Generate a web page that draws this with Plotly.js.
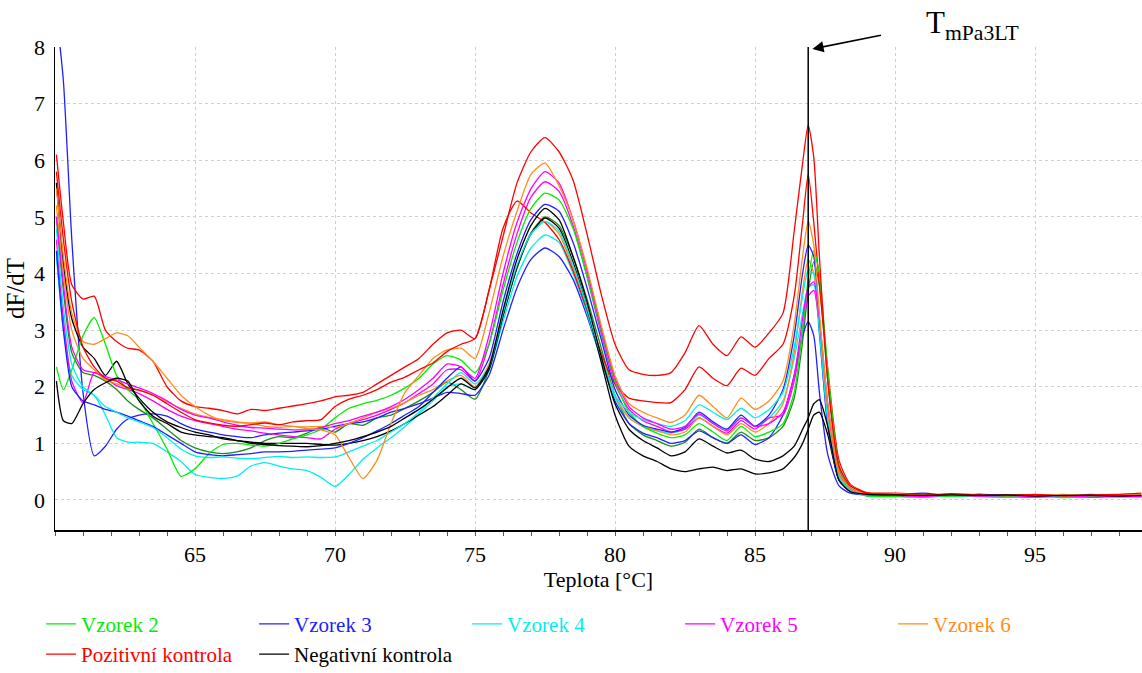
<!DOCTYPE html>
<html>
<head>
<meta charset="utf-8">
<script src="https://cdn.plot.ly/plotly-3.0.1.min.js"></script>
<style>html,body{margin:0;padding:0;background:#fff;}#chart{width:1142px;height:673px;}</style>
</head>
<body>
<div id="chart"></div>
<script>
// Temperature grid (°C)
const temperature = [60.05,60.3,60.6,61.0,61.4,61.8,62.2,62.6,63.0,63.5,64.0,64.5,65.0,65.5,66.0,66.5,67.0,67.5,68.0,68.5,69.0,69.5,70.0,70.5,71.0,71.5,72.0,72.5,73.0,73.5,74.0,74.5,75.0,75.5,76.0,76.5,77.0,77.5,78.0,78.5,79.0,79.5,80.0,80.5,81.0,81.5,82.0,82.5,83.0,83.5,84.0,84.5,85.0,85.5,86.0,86.4,86.7,86.9,87.1,87.3,87.6,88.0,88.4,89,90,91,92,93,94,95,96,97,98,98.8];

// dF/dT values (two runs per sample)
const vzorek2a = [2.35,1.95,2.3,2.9,3.22,2.75,2.2,1.95,1.77,1.35,0.9,0.42,0.55,0.82,0.98,1.0,0.97,0.95,1.0,1.08,1.15,1.25,1.45,1.62,1.7,1.76,1.85,1.98,2.15,2.4,2.55,2.47,2.25,2.75,3.7,4.55,5.15,5.42,5.3,4.8,3.95,3.0,2.1,1.55,1.3,1.18,1.1,1.15,1.35,1.2,1.05,1.3,1.12,1.2,1.35,1.9,3.0,3.9,4.4,4.0,2.3,0.6,0.22,0.07,0.06,0.05,0.07,0.06,0.05,0.07,0.04,0.06,0.05,0.06];
const vzorek2b = [5.0,3.7,2.6,2.25,2.2,2.1,1.95,1.75,1.6,1.45,1.25,1.05,0.92,0.85,0.82,0.85,0.92,1.05,1.12,1.1,1.18,1.28,1.2,1.35,1.32,1.45,1.5,1.62,1.75,1.9,2.08,1.95,1.78,2.3,3.25,4.1,4.72,5.0,4.85,4.3,3.55,2.7,1.85,1.35,1.15,1.05,0.95,1.02,1.25,1.1,1.0,1.2,1.05,1.1,1.3,1.8,2.8,3.7,4.2,3.8,2.1,0.55,0.2,0.08,0.07,0.06,0.08,0.07,0.06,0.05,0.07,0.06,0.07,0.06];
const vzorek3a = [4.4,3.0,2.0,1.75,1.68,1.6,1.55,1.48,1.4,1.3,1.15,1.0,0.85,0.8,0.78,0.8,0.82,0.85,0.85,0.86,0.88,0.9,0.92,1.0,1.1,1.22,1.35,1.5,1.65,1.9,2.15,2.35,2.1,2.5,3.5,4.35,4.95,5.22,5.1,4.55,3.75,2.85,1.95,1.5,1.32,1.25,1.2,1.28,1.55,1.38,1.25,1.5,1.3,1.5,1.95,2.9,4.0,4.5,4.3,3.0,1.3,0.35,0.15,0.1,0.09,0.12,0.08,0.1,0.09,0.07,0.08,0.09,0.07,0.08];
const vzorek3b = [8.6,7.4,4.6,1.9,0.78,0.95,1.25,1.43,1.5,1.52,1.48,1.35,1.25,1.2,1.15,1.12,1.1,1.15,1.18,1.2,1.22,1.25,1.3,1.35,1.38,1.45,1.55,1.62,1.7,1.8,1.9,1.88,1.85,2.2,3.0,3.75,4.25,4.45,4.3,3.9,3.25,2.5,1.75,1.35,1.18,1.1,1.0,1.05,1.22,1.1,1.0,1.15,0.98,1.1,1.5,2.2,2.9,3.15,2.9,1.9,0.8,0.25,0.12,0.09,0.1,0.08,0.1,0.09,0.07,0.08,0.07,0.06,0.08,0.07];
const vzorek4a = [4.8,3.4,2.4,2.0,1.85,1.65,1.55,1.45,1.38,1.28,1.1,0.9,0.78,0.75,0.76,0.74,0.73,0.75,0.77,0.75,0.76,0.75,0.76,0.85,0.95,1.05,1.2,1.35,1.55,1.8,2.05,2.25,2.05,2.35,3.3,4.15,4.7,4.92,4.75,4.15,3.4,2.55,1.85,1.55,1.42,1.35,1.3,1.4,1.68,1.55,1.42,1.62,1.45,1.6,1.9,2.7,3.6,4.05,4.0,3.0,1.4,0.4,0.17,0.08,0.09,0.07,0.08,0.07,0.08,0.07,0.06,0.08,0.07,0.08];
const vzorek4b = [4.3,3.0,2.2,1.95,1.85,1.5,1.1,1.02,1.02,1.0,0.85,0.68,0.45,0.4,0.38,0.42,0.6,0.66,0.6,0.55,0.52,0.4,0.24,0.45,0.72,0.92,1.1,1.3,1.52,1.75,2.0,2.05,1.95,2.3,3.15,3.95,4.45,4.68,4.55,4.0,3.3,2.5,1.8,1.45,1.3,1.22,1.18,1.25,1.5,1.35,1.25,1.45,1.3,1.45,1.75,2.5,3.3,3.75,3.8,2.9,1.4,0.4,0.16,0.07,0.08,0.06,0.07,0.08,0.06,0.07,0.08,0.06,0.07,0.06];
const vzorek5a = [5.0,3.8,2.7,2.3,2.25,2.18,2.12,2.05,1.98,1.88,1.75,1.6,1.5,1.45,1.38,1.32,1.28,1.27,1.25,1.24,1.24,1.28,1.35,1.4,1.48,1.55,1.65,1.78,1.95,2.15,2.4,2.35,2.15,2.9,4.0,4.9,5.5,5.8,5.6,4.95,4.05,3.05,2.15,1.65,1.45,1.35,1.25,1.3,1.52,1.35,1.22,1.45,1.3,1.35,1.55,2.2,3.2,3.75,3.85,3.2,1.7,0.5,0.2,0.09,0.08,0.06,0.09,0.07,0.08,0.06,0.08,0.05,0.07,0.06];
const vzorek5b = [4.6,3.2,2.1,1.72,2.25,2.15,2.02,1.95,1.88,1.75,1.6,1.48,1.4,1.35,1.3,1.25,1.22,1.18,1.15,1.12,1.1,1.08,1.25,1.35,1.42,1.5,1.6,1.72,1.88,2.05,2.3,2.3,2.1,2.75,3.8,4.7,5.35,5.62,5.45,4.85,3.95,2.95,2.05,1.6,1.4,1.3,1.2,1.25,1.45,1.3,1.18,1.4,1.25,1.45,1.5,2.1,3.0,3.6,3.7,3.1,1.6,0.45,0.2,0.08,0.09,0.07,0.08,0.08,0.06,0.07,0.07,0.06,0.08,0.07];
const vzorek6a = [5.5,4.3,3.3,2.8,2.75,2.85,2.95,2.9,2.7,2.45,2.15,1.85,1.65,1.5,1.4,1.37,1.35,1.3,1.28,1.3,1.26,1.24,1.15,0.75,0.38,0.7,1.35,1.9,2.2,2.5,2.65,2.68,2.5,3.3,4.3,5.1,5.75,5.95,5.55,4.95,4.1,3.1,2.2,1.7,1.55,1.45,1.37,1.5,1.85,1.65,1.45,1.8,1.6,1.75,2.1,3.1,4.3,4.93,4.5,3.3,1.7,0.5,0.2,0.1,0.11,0.09,0.1,0.08,0.09,0.08,0.1,0.08,0.09,0.1];
const vzorek6b = [5.2,4.0,3.0,2.5,2.3,2.12,2.05,1.98,1.94,1.85,1.73,1.62,1.52,1.46,1.42,1.38,1.36,1.38,1.33,1.3,1.29,1.3,1.28,1.35,1.45,1.55,1.62,1.72,1.85,1.95,2.1,2.2,2.0,2.4,3.3,4.1,4.7,4.92,4.7,4.1,3.4,2.6,1.85,1.45,1.3,1.22,1.15,1.2,1.45,1.3,1.15,1.35,1.2,1.35,1.7,2.6,3.7,4.25,4.0,3.1,1.5,0.45,0.2,0.11,0.09,0.1,0.08,0.1,0.07,0.09,0.08,0.09,0.08,0.09];
const pozitivniA = [5.8,4.6,3.5,2.7,2.35,2.15,2.1,1.98,1.94,1.85,1.7,1.55,1.42,1.36,1.32,1.3,1.33,1.36,1.33,1.38,1.4,1.42,1.65,1.78,1.85,1.95,2.08,2.17,2.3,2.42,2.62,2.75,2.85,3.7,4.65,5.6,6.15,6.4,6.15,5.65,4.7,3.65,2.75,2.3,2.22,2.2,2.25,2.6,3.08,2.75,2.55,2.88,2.7,2.95,3.3,4.75,5.95,6.62,6.05,4.3,2.1,0.6,0.25,0.12,0.1,0.08,0.11,0.09,0.08,0.1,0.07,0.09,0.1,0.12];
const pozitivniB = [6.1,4.9,3.8,3.55,3.6,3.0,2.8,2.68,2.65,2.45,2.0,1.75,1.65,1.62,1.58,1.52,1.6,1.58,1.62,1.66,1.7,1.75,1.82,1.85,1.9,2.05,2.2,2.35,2.5,2.75,2.95,3.0,2.85,3.7,4.8,5.28,5.07,4.9,4.6,4.05,3.35,2.6,2.05,1.8,1.75,1.72,1.72,1.95,2.35,2.15,2.02,2.33,2.2,2.5,2.75,3.6,4.9,5.75,4.9,3.8,2.3,0.7,0.28,0.13,0.12,0.1,0.09,0.1,0.08,0.09,0.08,0.1,0.07,0.08];
const negativniA = [2.1,1.4,1.35,1.7,1.95,2.07,2.15,2.1,1.75,1.48,1.35,1.2,1.15,1.12,1.1,1.05,1.0,0.98,0.96,0.95,0.94,0.96,1.0,1.05,1.12,1.2,1.3,1.45,1.6,1.78,1.98,2.15,1.98,2.35,3.35,4.25,4.85,5.15,4.95,4.3,3.5,2.55,1.7,1.25,1.05,0.92,0.78,0.85,1.08,0.95,0.83,0.88,0.72,0.68,0.78,0.95,1.25,1.45,1.7,1.77,1.3,0.35,0.15,0.1,0.09,0.08,0.09,0.08,0.09,0.07,0.08,0.08,0.07,0.08];
const negativniB = [5.6,4.2,3.2,2.7,2.5,2.2,2.45,2.05,1.8,1.55,1.38,1.28,1.2,1.15,1.08,1.05,1.02,1.0,1.0,1.0,1.0,0.98,0.97,1.0,1.05,1.12,1.22,1.35,1.5,1.65,1.85,2.05,1.95,2.3,3.25,4.1,4.7,4.98,4.8,4.2,3.4,2.45,1.5,0.95,0.78,0.68,0.55,0.5,0.55,0.58,0.52,0.55,0.46,0.48,0.55,0.75,1.0,1.25,1.5,1.55,1.15,0.35,0.15,0.09,0.1,0.09,0.08,0.09,0.08,0.08,0.07,0.08,0.08,0.07];

const sampleNames = ["Vzorek 2","Vzorek 3","Vzorek 4","Vzorek 5","Vzorek 6","Pozitivní kontrola","Negativní kontrola"];
const sampleColors = ["#00ee00","#2020ff","#00eeee","#ff00ff","#ff8c1a","#ff0000","#000000"];
const secondColors = ["#1a8c1a","#2020ff","#00eeee","#ff00ff","#ff8c1a","#ff0000","#000000"];
const runsA = [vzorek2a,vzorek3a,vzorek4a,vzorek5a,vzorek6a,pozitivniA,negativniA];
const runsB = [vzorek2b,vzorek3b,vzorek4b,vzorek5b,vzorek6b,pozitivniB,negativniB];
const tmMarker = 86.9;

const traces = [];
sampleNames.forEach((n,i)=>{
  traces.push({x:temperature,y:runsB[i],type:'scatter',mode:'lines',
    line:{color:secondColors[i],width:1.3,shape:'spline',smoothing:0.6},
    legendgroup:n,showlegend:false,hoverinfo:'skip'});
});
sampleNames.forEach((n,i)=>{
  traces.push({x:temperature,y:runsA[i],type:'scatter',mode:'lines',name:n,
    line:{color:sampleColors[i],width:1.3,shape:'spline',smoothing:0.6},
    legendgroup:n,showlegend:true});
});

const serif = "Liberation Serif";
const layout = {
  width:1142,height:673,
  margin:{l:55,r:0,t:47,b:143},
  paper_bgcolor:'#fff',plot_bgcolor:'#fff',
  font:{family:serif,size:22,color:'#000'},
  showlegend:true,
  xaxis:{range:[60,60+1087/28],tickvals:[65,70,75,80,85,90,95],
    showgrid:true,gridcolor:'#cfcfcf',griddash:'dot',gridwidth:1,
    showline:true,linecolor:'#000',linewidth:1.5,
    ticks:'outside',ticklen:4,tickcolor:'#555',
    minor:{dtick:1,tick0:60,ticks:'outside',ticklen:4,tickcolor:'#555',showgrid:false},
    zeroline:false,tickfont:{family:serif,size:22,color:'#000'},
    title:{text:'Teplota [°C]',font:{family:serif,size:22,color:'#000'},standoff:4}},
  yaxis:{range:[-0.53,8.0],dtick:1,tick0:0,
    showgrid:true,gridcolor:'#cfcfcf',griddash:'dot',gridwidth:1,
    showline:true,linecolor:'#000',linewidth:1.5,ticks:'',
    zeroline:false,tickfont:{family:serif,size:22,color:'#000'},ticklabelstandoff:4,
    title:{text:'dF/dT',font:{family:serif,size:25,color:'#000'},standoff:2}},
  legend:{orientation:'h',xref:'container',yref:'container',x:0.036,y:0.103,xanchor:'left',yanchor:'top',
    entrywidth:168,entrywidthmode:'pixels',font:{family:serif,size:21,color:'#000'},itemwidth:30,
    bgcolor:'rgba(0,0,0,0)',traceorder:'normal'},
  shapes:[{type:'line',xref:'x',yref:'paper',x0:tmMarker,x1:tmMarker,y0:0,y1:1,
    line:{color:'#000',width:1.5}}],
  annotations:[
    {xref:'x',yref:'paper',x:87.05,y:0.996,text:'',showarrow:true,arrowhead:2,arrowsize:1.4,arrowwidth:1.6,
     arrowcolor:'#000',ax:70,ay:-14},
    {xref:'x',yref:'paper',x:92.75,y:1.045,text:'T<sub>mPa3LT</sub>',showarrow:false,
     font:{family:serif,size:31,color:'#000'},xanchor:'center',yanchor:'middle'}
  ]
};
function colourLegend(){
  const gd=document.getElementById('chart');
  gd.querySelectorAll('.legend .traces').forEach(it=>{
    const t=it.querySelector('.legendtext'); if(!t) return;
    const idx=sampleNames.indexOf(t.textContent.trim());
    if(idx>=0){ t.style.setProperty('fill',sampleColors[idx],'important'); }
  });
}
Plotly.newPlot('chart',traces,layout,{displayModeBar:false,staticPlot:true}).then(()=>{
  colourLegend();
  setTimeout(colourLegend,50);
});
</script>
</body>
</html>
